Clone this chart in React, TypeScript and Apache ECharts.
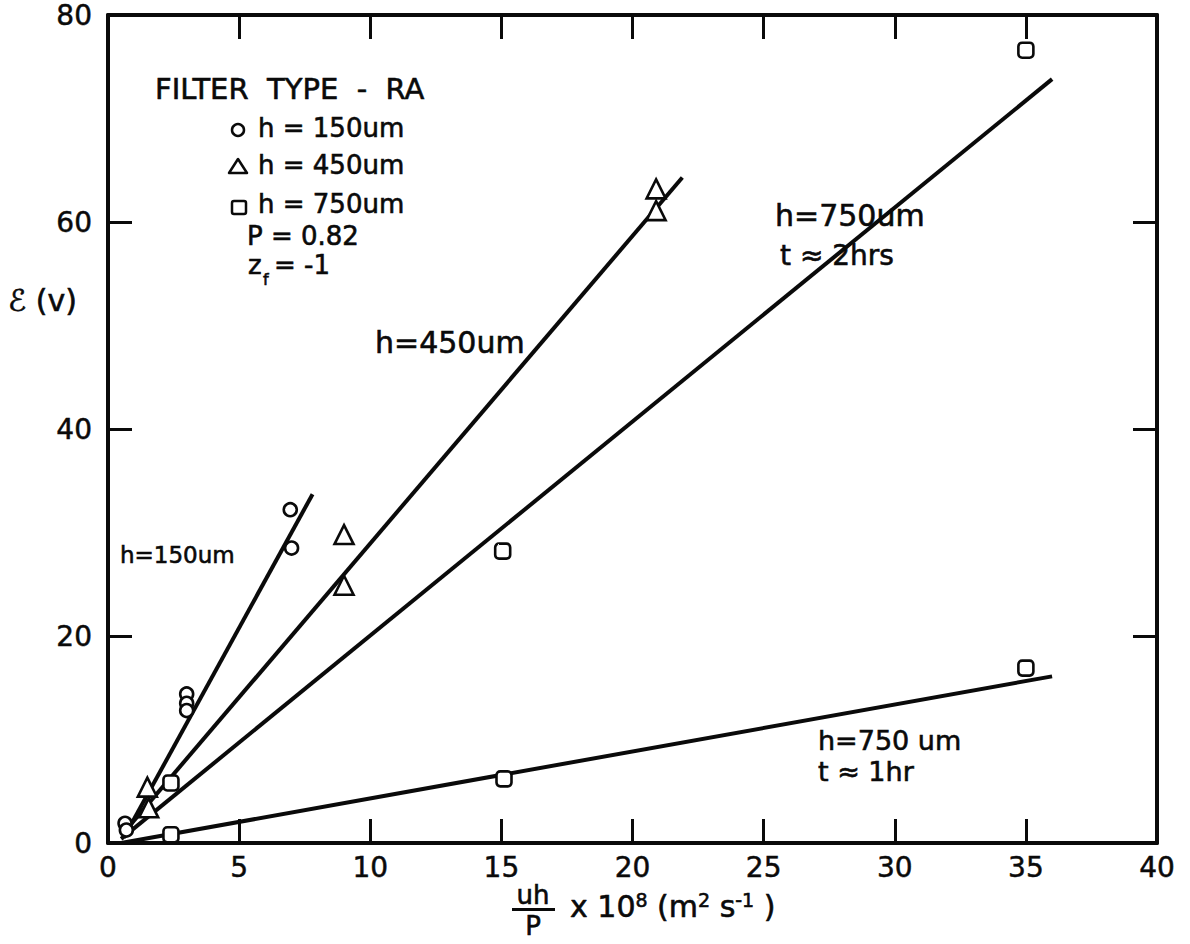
import React, { useEffect, useRef } from "react";
import * as echarts from "echarts";

// Measured points for filter type RA (x: uh/P ×10^8 m²/s, y: ℰ in volts)
const circle150: number[][] = [[0.65, 1.9], [0.7, 1.25], [3.0, 14.4], [3.0, 13.5], [3.0, 12.8], [6.95, 32.2], [7.0, 28.5]];
const triangle450: number[][] = [[1.5, 5.4], [1.55, 3.4], [9.0, 29.8], [9.0, 24.9], [20.9, 63.2], [20.9, 61.1]];
const square750twoHr: number[][] = [[2.4, 5.8], [15.05, 28.2], [35.0, 76.6]];
const square750oneHr: number[][] = [[2.4, 0.8], [15.1, 6.2], [35.0, 16.9]];

// Fitted straight lines (end points)
const fit150: number[][] = [[0.6, 0.5], [7.8, 33.7]];
const fit450: number[][] = [[0.9, 1.9], [21.9, 64.3]];
const fit750twoHr: number[][] = [[0.5, 0.4], [36.0, 73.8]];
const fit750oneHr: number[][] = [[0.5, 0.0], [36.0, 16.1]];

const xMin = 0, xMax = 40, xStep = 5;
const yMin = 0, yMax = 80, yStep = 20;

const INK = "#0a0a0a";
const FONT = "DejaVu Sans";

export default function App() {
  const ref = useRef<HTMLDivElement>(null);

  useEffect(() => {
    document.body.style.margin = "0";
    if (!ref.current) return;
    const chart = echarts.init(ref.current, undefined, { renderer: "svg" });

    const axisLine = { show: true, onZero: false, lineStyle: { color: INK, width: 4 } };
    const axisTick = { show: true, inside: true, length: 24, lineStyle: { color: INK, width: 3 } };
    const tickLabel = { color: INK, fontFamily: FONT, fontSize: 28, textBorderColor: INK, textBorderWidth: 0.5 };

    const fitLine = (data: number[][]) => ({
      type: "line",
      data,
      showSymbol: false,
      symbol: "none",
      lineStyle: { color: INK, width: 4 },
      silent: true,
      z: 2,
    });
    const marker = (data: number[][], symbol: string, size: number) => ({
      type: "scatter",
      data,
      symbol,
      symbolSize: size,
      itemStyle: { color: "#fff", borderColor: INK, borderWidth: 2.6, opacity: 1 },
      z: 3,
    });

    const txt = (text: string, x: number, y: number, size: number, extra: any = {}) => ({
      type: "text",
      x,
      y,
      style: {
        text,
        fill: INK,
        font: `${size}px "${FONT}"`,
        lineHeight: size,
        verticalAlign: "middle",
        stroke: INK,
        lineWidth: 0.6,
        ...extra,
      },
    });

    chart.setOption({
      animation: false,
      backgroundColor: "#fff",
      grid: { left: 108, right: 33, top: 15, bottom: 101 },
      xAxis: [
        {
          type: "value", min: xMin, max: xMax, interval: xStep, position: "bottom",
          axisLine, axisTick, splitLine: { show: false },
          axisLabel: { ...tickLabel, margin: 10 },
        },
        {
          type: "value", min: xMin, max: xMax, interval: xStep, position: "top",
          axisLine, axisTick, splitLine: { show: false }, axisLabel: { show: false },
        },
      ],
      yAxis: [
        {
          type: "value", min: yMin, max: yMax, interval: yStep, position: "left",
          axisLine, axisTick, splitLine: { show: false },
          axisLabel: { ...tickLabel, margin: 16 },
        },
        {
          type: "value", min: yMin, max: yMax, interval: yStep, position: "right",
          axisLine, axisTick, splitLine: { show: false }, axisLabel: { show: false },
        },
      ],
      series: [
        fitLine(fit150),
        fitLine(fit450),
        fitLine(fit750twoHr),
        fitLine(fit750oneHr),
        marker(circle150, "circle", 13),
        marker(triangle450, "triangle", 19),
        marker(square750twoHr, "roundRect", 15),
        marker(square750oneHr, "roundRect", 15),
      ],
      graphic: [
        // legend block
        txt("FILTER  TYPE  -  RA", 155, 89, 29),
        { type: "circle", shape: { cx: 238, cy: 130, r: 6 }, style: { fill: "none", stroke: INK, lineWidth: 2.5 } },
        txt("h = 150um", 258, 128, 26),
        { type: "polygon", shape: { points: [[229, 173], [247, 173], [238, 159]] }, style: { fill: "none", stroke: INK, lineWidth: 2.5, lineJoin: "round" } },
        txt("h = 450um", 258, 165, 26),
        { type: "rect", shape: { x: 232, y: 201, width: 14, height: 13, r: 2 }, style: { fill: "none", stroke: INK, lineWidth: 2.5 } },
        txt("h = 750um", 258, 204, 26),
        txt("P = 0.82", 247, 236, 26),
        txt("z", 248, 265, 26),
        txt("f", 263, 279, 16),
        txt("= -1", 274, 265, 26),

        // line annotations
        txt("h=150um", 120, 555, 23),
        txt("h=450um", 375, 342, 30),
        txt("h=750um", 775, 215, 30),
        txt("t ≈ 2hrs", 780, 255, 28),
        txt("h=750 um", 818, 740, 27),
        txt("t ≈ 1hr", 818, 771, 27),

        // y axis title
        txt("ℰ (v)", 8, 300, 30),

        // x axis title: uh/P × 10^8 (m² s⁻¹)
        txt("uh", 533, 895, 26, { align: "center" }),
        { type: "rect", shape: { x: 512, y: 908, width: 43, height: 3 }, style: { fill: INK } },
        txt("P", 533, 926, 26, { align: "center" }),
        {
          type: "text",
          x: 570,
          y: 906,
          style: {
            text: "{n|x 10}{s|8}{n| (m}{s|2}{n| s}{s|-1}{n| )}",
            verticalAlign: "middle",
            fill: INK,
            stroke: INK,
            lineWidth: 0.6,
            rich: {
              n: { fontFamily: FONT, fontSize: 30, lineHeight: 32, fill: INK, color: INK },
              s: { fontFamily: FONT, fontSize: 19, lineHeight: 32, verticalAlign: "top", fill: INK, color: INK },
            },
          },
        },
      ],
    });

    return () => chart.dispose();
  }, []);

  return <div ref={ref} style={{ width: 1190, height: 944 }} />;
}
